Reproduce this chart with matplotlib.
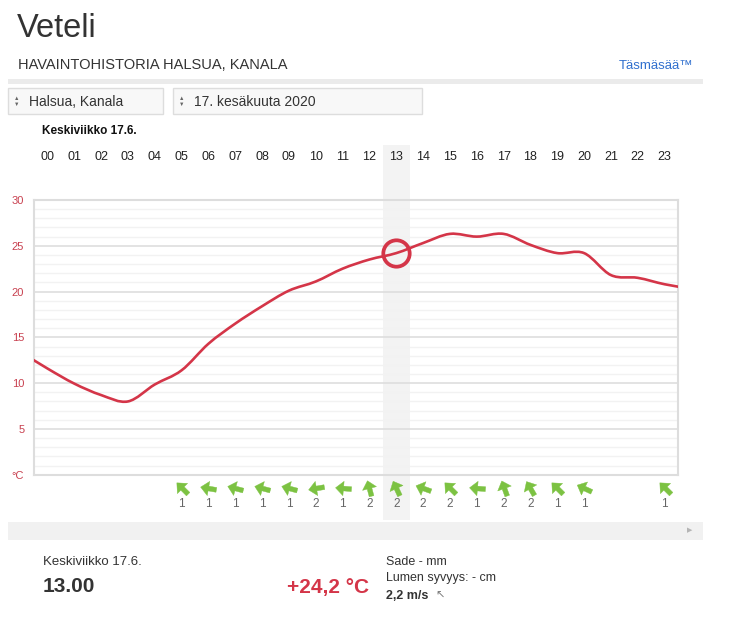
import numpy as np
import matplotlib
matplotlib.use("Agg")
import matplotlib.pyplot as plt
from matplotlib.path import Path
from matplotlib.patches import PathPatch, Rectangle
from matplotlib.markers import MarkerStyle
from matplotlib.transforms import Affine2D, blended_transform_factory

plt.rcParams["font.family"] = ["Liberation Sans", "DejaVu Sans"]

# ----------------------------------------------------------------------
# data
# ----------------------------------------------------------------------
hours = list(range(24))
hour_labels = [f"{h:02d}" for h in hours]
temps = [11.6, 9.95, 8.7, 8.0, 9.85, 11.4, 14.3, 16.5, 18.4, 20.1, 21.1, 22.5,
         23.5, 24.2, 25.3, 26.3, 26.0, 26.3, 25.1, 24.2, 24.2, 21.8, 21.5, 20.8]
temp_prev_day_23 = 13.4   # continues off the left edge
temp_next_day_00 = 20.3   # continues off the right edge
selected_hour = 13

wind_hours = [5, 6, 7, 8, 9, 10, 11, 12, 13, 14, 15, 16, 17, 18, 19, 20, 23]
wind_speed = [1, 1, 1, 1, 1, 2, 1, 2, 2, 2, 2, 1, 2, 2, 1, 1, 1]
wind_dir = [135, 170, 165, 165, 165, 190, 175, 105, 115, 160, 135, 175, 110, 120, 135, 155, 135]
wind_selected = "2,2 m/s"

y_ticks = [0, 5, 10, 15, 20, 25, 30]
y_tick_labels = ["°C", "5", "10", "15", "20", "25", "30"]

RED = "#d43548"
GREEN = "#7cc242"
W, H = 743, 629

fig = plt.figure(figsize=(W / 100, H / 100), dpi=100)

# pixel overlay for page furniture
page = fig.add_axes([0, 0, 1, 1], zorder=0)
page.set_xlim(0, W)
page.set_ylim(H, 0)
page.axis("off")

page.text(17, 37, "Veteli", fontsize=23.5, color="#333333", va="baseline")
page.text(18, 65, "HAVAINTOHISTORIA HALSUA, KANALA", fontsize=10.5, color="#333333", va="center")
page.text(693, 66, "Täsmäsää™", fontsize=9.5, color="#2f6fce", va="center", ha="right")
page.add_patch(Rectangle((8, 79), 695, 5, color="#ebebeb", lw=0))

for x0, w, label in [(8, 155, "Halsua, Kanala"), (173, 249, "17. kesäkuuta 2020")]:
    page.add_patch(Rectangle((x0, 88), w, 26, facecolor="#f8f8f8", edgecolor="#dddddd", lw=1))
    page.text(x0 + 9, 98, "▲", fontsize=4, color="#666666", ha="center", va="center")
    page.text(x0 + 9, 104.5, "▼", fontsize=4, color="#666666", ha="center", va="center")
    page.text(x0 + 21, 101.5, label, fontsize=10, color="#333333", va="center")

page.text(42, 131, "Keskiviikko 17.6.", fontsize=8.5, fontweight="bold", color="#111111", va="center")

# bottom scroll bar
page.add_patch(Rectangle((8, 522), 695, 18, color="#f1f1f1", lw=0))
page.text(690, 531, "▶", fontsize=5, color="#b5b5b5", ha="center", va="center")

# bottom summary
page.text(43, 562, "Keskiviikko 17.6.", fontsize=9.5, color="#333333", va="center")
page.text(43, 587, f"{selected_hour}.00", fontsize=15, fontweight="bold", color="#333333", va="center")
page.text(369, 587, f"+{temps[selected_hour]:.1f} °C".replace(".", ","), fontsize=15,
          fontweight="bold", color=RED, va="center", ha="right")
page.text(386, 562, "Sade - mm", fontsize=9, color="#333333", va="center")
page.text(386, 578, "Lumen syvyys: - cm", fontsize=9, color="#333333", va="center")
page.text(386, 596, wind_selected, fontsize=9, fontweight="bold", color="#333333", va="center")
page.text(435, 596, "↖", fontsize=8, color="#777777", va="center")

# ----------------------------------------------------------------------
# temperature chart
# ----------------------------------------------------------------------
left, top, right, bottom = 34, 200, 678, 474.7
ax = fig.add_axes([left / W, 1 - bottom / H, (right - left) / W, (bottom - top) / H], zorder=1)
ax.set_facecolor("none")
ax.set_xlim(0, 24)
ax.set_ylim(0, 30)

ax.set_yticks(y_ticks)
ax.set_yticklabels(y_tick_labels)
ax.set_yticks(range(1, 30), minor=True)
ax.set_xticks([])
ax.tick_params(axis="y", which="both", length=0, pad=7, labelsize=8, labelcolor="#c8404f")
ax.grid(axis="y", which="major", color="#e0e0e0", lw=1.3, zorder=0)
ax.grid(axis="y", which="minor", color="#f2f2f2", lw=1.0, zorder=0)
ax.set_axisbelow(True)
for s in ax.spines.values():
    s.set_color("#dddddd")
    s.set_linewidth(1.5)

# highlighted hour band (spans hour row, chart and wind row)
bx = blended_transform_factory(ax.transData, page.transData)
page.add_patch(Rectangle((selected_hour, 145), 1, 375, color="#f3f3f3", lw=0,
                         transform=bx, zorder=0))

# hour labels
for h, lab in zip(hours, hour_labels):
    page.text(h + 0.5, 157, lab, fontsize=9, color="#222222", ha="center", va="center",
              transform=bx)

# smooth line (Catmull-Rom -> cubic Bezier)
xs = np.array([-0.5] + [h + 0.5 for h in hours] + [24.5])
ys = np.array([temp_prev_day_23] + temps + [temp_next_day_00])
verts = [(xs[0], ys[0])]
codes = [Path.MOVETO]
for i in range(len(xs) - 1):
    p0 = np.array([xs[max(i - 1, 0)], ys[max(i - 1, 0)]])
    p1 = np.array([xs[i], ys[i]])
    p2 = np.array([xs[i + 1], ys[i + 1]])
    p3 = np.array([xs[min(i + 2, len(xs) - 1)], ys[min(i + 2, len(xs) - 1)]])
    c1 = p1 + (p2 - p0) / 6
    c2 = p2 - (p3 - p1) / 6
    verts += [tuple(c1), tuple(c2), tuple(p2)]
    codes += [Path.CURVE4] * 3
ax.add_patch(PathPatch(Path(verts, codes), facecolor="none", edgecolor=RED, lw=1.9,
                       capstyle="round", joinstyle="round", zorder=3))

ax.plot([selected_hour + 0.5], [temps[selected_hour]], marker="o", ms=19, mfc="none",
        mec=RED, mew=2.7, zorder=4, clip_on=False)

# wind arrows
arrow_path = Path([(-0.5, -0.15), (0.0, -0.15), (0.0, -0.45), (0.5, 0.0),
                   (0.0, 0.45), (0.0, 0.15), (-0.5, 0.15), (-0.5, -0.15)],
                  [Path.MOVETO] + [Path.LINETO] * 6 + [Path.CLOSEPOLY])
for h, spd, d in zip(wind_hours, wind_speed, wind_dir):
    m = MarkerStyle(arrow_path, transform=Affine2D().rotate_deg(d))
    page.plot([h + 0.5], [488], marker=m, ms=11.5, color=GREEN, mec=GREEN, mew=0.3,
              transform=bx, zorder=2)
    page.text(h + 0.5, 504, str(spd), fontsize=8.5, color="#666666", ha="center",
              va="center", transform=bx)

fig.savefig("out.png", dpi=100)
